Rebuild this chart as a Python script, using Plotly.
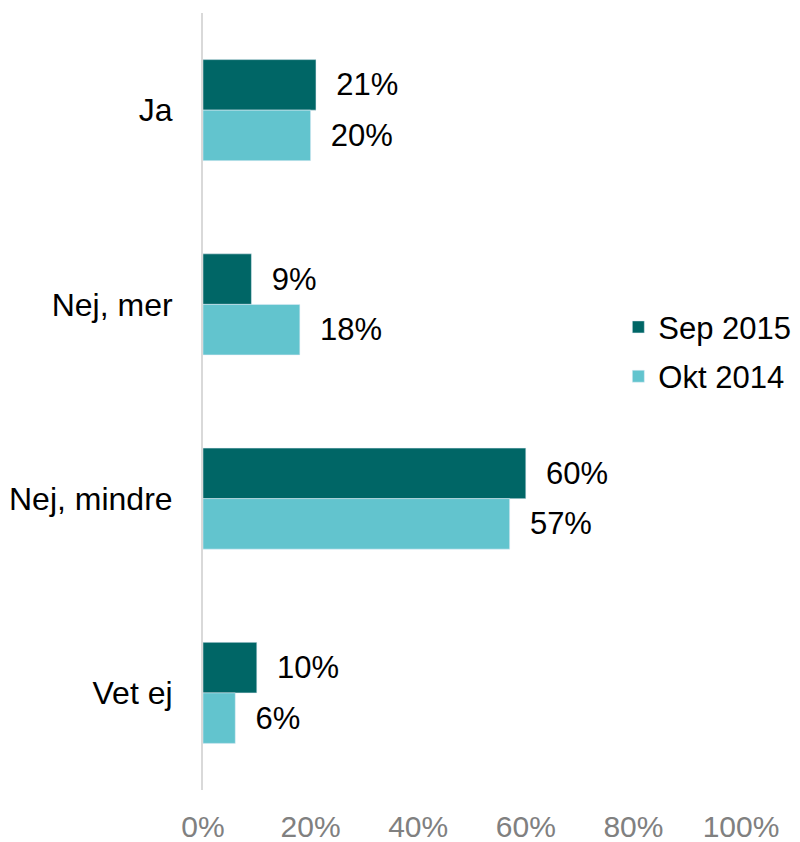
import plotly.graph_objects as go

categories = ["Ja", "Nej, mer", "Nej, mindre", "Vet ej"]
sep2015 = [21, 9, 60, 10]
okt2014 = [20, 18, 57, 6]
tick_vals = [0, 20, 40, 60, 80, 100]
tick_text = ["0%", "20%", "40%", "60%", "80%", "100%"]

fnt = "Liberation Sans, Arial, sans-serif"

fig = go.Figure()
fig.add_trace(go.Bar(
    y=categories, x=sep2015, name="Sep 2015", orientation="h",
    marker_color="#006666", legendgroup="a",
    text=[f"  {v}%" for v in sep2015], textposition="outside",
    textfont=dict(size=31, color="#000000", family=fnt),
    cliponaxis=False,
))
fig.add_trace(go.Bar(
    y=categories, x=okt2014, name="Okt 2014", orientation="h",
    marker_color="#62C4CE", legendgroup="b",
    text=[f"  {v}%" for v in okt2014], textposition="outside",
    textfont=dict(size=31, color="#000000", family=fnt),
    cliponaxis=False,
))

# page body adds an 8px offset; figure sized to fit the window
fig.update_layout(
    width=792, height=834,
    margin=dict(l=195, r=59, t=5, b=52, autoexpand=False),
    barmode="group", bargap=0.48, bargroupgap=0,
    plot_bgcolor="white", paper_bgcolor="white",
    font=dict(family=fnt, size=31, color="#000000"),
    showlegend=True,
    legend=dict(x=0.772, y=0.564, xanchor="left", yanchor="middle",
                font=dict(size=31, color="#000000", family=fnt),
                traceorder="grouped", tracegroupgap=6,
                bgcolor="rgba(0,0,0,0)"),
    xaxis=dict(range=[0, 100], tickvals=tick_vals, ticktext=tick_text,
               showgrid=False, zeroline=False, showline=False,
               automargin=False,
               tickfont=dict(size=30, color="#808080", family=fnt),
               ticklabelstandoff=16),
    yaxis=dict(autorange="reversed", showgrid=False, zeroline=False,
               showline=True, linecolor="#d9d9d9", linewidth=2,
               automargin=False,
               tickfont=dict(size=32, color="#000000", family=fnt),
               ticklabelstandoff=22),
)

fig.write_html("out.html")
